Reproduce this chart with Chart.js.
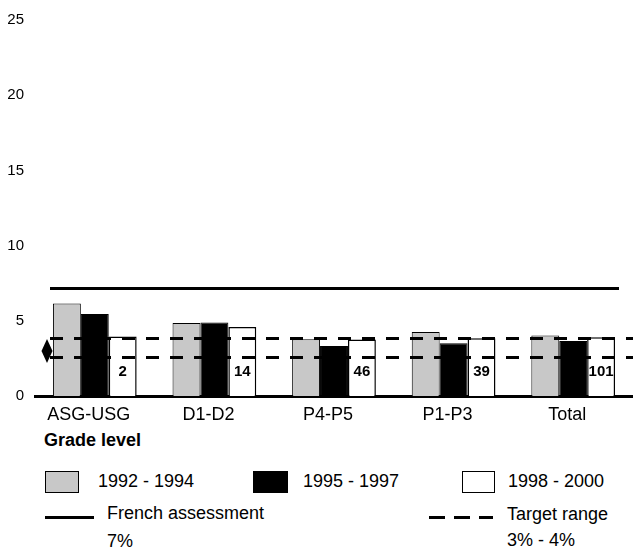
<!DOCTYPE html>
<html>
<head>
<meta charset="utf-8">
<script src="https://cdn.jsdelivr.net/npm/chart.js@4/dist/chart.umd.min.js"></script>
<style>
  body { margin: 0; background: #fff; font-family: "Liberation Sans", Arial, sans-serif; color: #000; }
  #wrap { position: relative; width: 633px; height: 550px; overflow: hidden; }
  #c { position: absolute; left: 0; top: 0; }
  .t { position: absolute; font-size: 18px; line-height: 20px; white-space: nowrap; }
  .box { position: absolute; box-sizing: border-box; border: 1px solid #000; }
  .ln { position: absolute; height: 3px; background: #000; }
</style>
</head>
<body>
<div id="wrap">
  <canvas id="c" width="633" height="430"></canvas>
  <div class="t" style="left:44px; top:430px; font-weight:bold;">Grade level</div>

  <div class="box" style="left:45px; top:471px; width:34px; height:22px; background:#c8c8c8;"></div>
  <div class="t" style="left:98px; top:471px;">1992 - 1994</div>
  <div class="box" style="left:253px; top:471px; width:35px; height:22px; background:#000;"></div>
  <div class="t" style="left:303px; top:471px;">1995 - 1997</div>
  <div class="box" style="left:462px; top:471px; width:33px; height:22px; background:#fff;"></div>
  <div class="t" style="left:508px; top:471px;">1998 - 2000</div>

  <div class="ln" style="left:45px; top:516px; width:49px;"></div>
  <div class="t" style="left:107px; top:503px;">French assessment</div>
  <div class="t" style="left:107px; top:531px;">7%</div>
  <div class="ln" style="left:429px; top:516px; width:16px;"></div>
  <div class="ln" style="left:454px; top:516px; width:16px;"></div>
  <div class="ln" style="left:479px; top:516px; width:14px;"></div>
  <div class="t" style="left:507px; top:504px;">Target range</div>
  <div class="t" style="left:507px; top:530px;">3% - 4%</div>
</div>
<script>
const categories = ["ASG-USG", "D1-D2", "P4-P5", "P1-P3", "Total"];
const series1992_1994 = [6.15, 4.86, 3.78, 4.26, 4.03];
const series1995_1997 = [5.45, 4.88, 3.32, 3.50, 3.65];
const series1998_2000 = [3.96, 4.59, 3.76, 3.84, 3.90];
const sampleSizes = ["2", "14", "46", "39", "101"];
const frenchAssessment = 7.2;
const targetRange = [2.58, 3.83];
const targetMarker = 3.0;
const yTicks = [0, 5, 10, 15, 20, 25];

const overlay = {
  id: 'overlay',
  afterDatasetsDraw(chart) {
    const ctx = chart.ctx;
    const y = chart.scales.y;
    const a = chart.chartArea;
    ctx.save();
    const meta = chart.getDatasetMeta(2);
    ctx.fillStyle = '#000';
    ctx.font = 'bold 15px "Liberation Sans", Arial, sans-serif';
    ctx.textAlign = 'center';
    ctx.textBaseline = 'middle';
    meta.data.forEach((bar, i) => {
      ctx.fillText(sampleSizes[i], bar.x, y.getPixelForValue(1.6));
    });
    ctx.strokeStyle = '#000';
    ctx.lineWidth = 3;
    ctx.setLineDash([]);
    let py = Math.round(y.getPixelForValue(frenchAssessment)) + 0.5;
    ctx.beginPath();
    ctx.moveTo(a.left + 15, py);
    ctx.lineTo(a.right - 14, py);
    ctx.stroke();
    ctx.setLineDash([13, 11]);
    targetRange.forEach(v => {
      const yy = Math.round(y.getPixelForValue(v)) + 0.5;
      ctx.beginPath();
      ctx.moveTo(a.left + 15, yy);
      ctx.lineTo(a.right, yy);
      ctx.stroke();
    });
    ctx.setLineDash([]);
    const dy = y.getPixelForValue(targetMarker);
    const dx = a.left + 12;
    ctx.fillStyle = '#000';
    ctx.beginPath();
    ctx.moveTo(dx, dy - 12);
    ctx.lineTo(dx + 5.5, dy);
    ctx.lineTo(dx, dy + 12);
    ctx.lineTo(dx - 5.5, dy);
    ctx.closePath();
    ctx.fill();
    ctx.restore();
  }
};

new Chart(document.getElementById('c'), {
  type: 'bar',
  data: {
    labels: categories,
    datasets: [
      { label: '1992 - 1994', data: series1992_1994, backgroundColor: '#c8c8c8', borderColor: '#000', borderWidth: 1 },
      { label: '1995 - 1997', data: series1995_1997, backgroundColor: '#000', borderColor: '#000', borderWidth: 1 },
      { label: '1998 - 2000', data: series1998_2000, backgroundColor: '#fff', borderColor: '#000', borderWidth: 1.5 }
    ]
  },
  options: {
    responsive: false,
    animation: false,
    layout: { padding: { top: 16, left: 0, right: 0, bottom: 0 } },
    datasets: { bar: { categoryPercentage: 0.7, barPercentage: 1.0 } },
    plugins: { legend: { display: false }, tooltip: { enabled: false } },
    scales: {
      x: {
        grid: { display: false, drawTicks: false },
        border: { display: true, color: '#000', width: 3 },
        ticks: { color: '#000', font: { family: '"Liberation Sans", Arial, sans-serif', size: 18 }, padding: 8, labelOffset: -6, maxRotation: 0, autoSkip: false },
        afterFit(s) { s.height = 34; }
      },
      y: {
        min: 0, max: 25,
        afterBuildTicks(s) { s.ticks = yTicks.map(v => ({ value: v })); },
        grid: { display: false, drawTicks: false },
        border: { display: false },
        ticks: { color: '#000', font: { family: '"Liberation Sans", Arial, sans-serif', size: 15 }, padding: 11 },
        afterFit(s) { s.width = 35; }
      }
    }
  },
  plugins: [overlay]
});
</script>
</body>
</html>
